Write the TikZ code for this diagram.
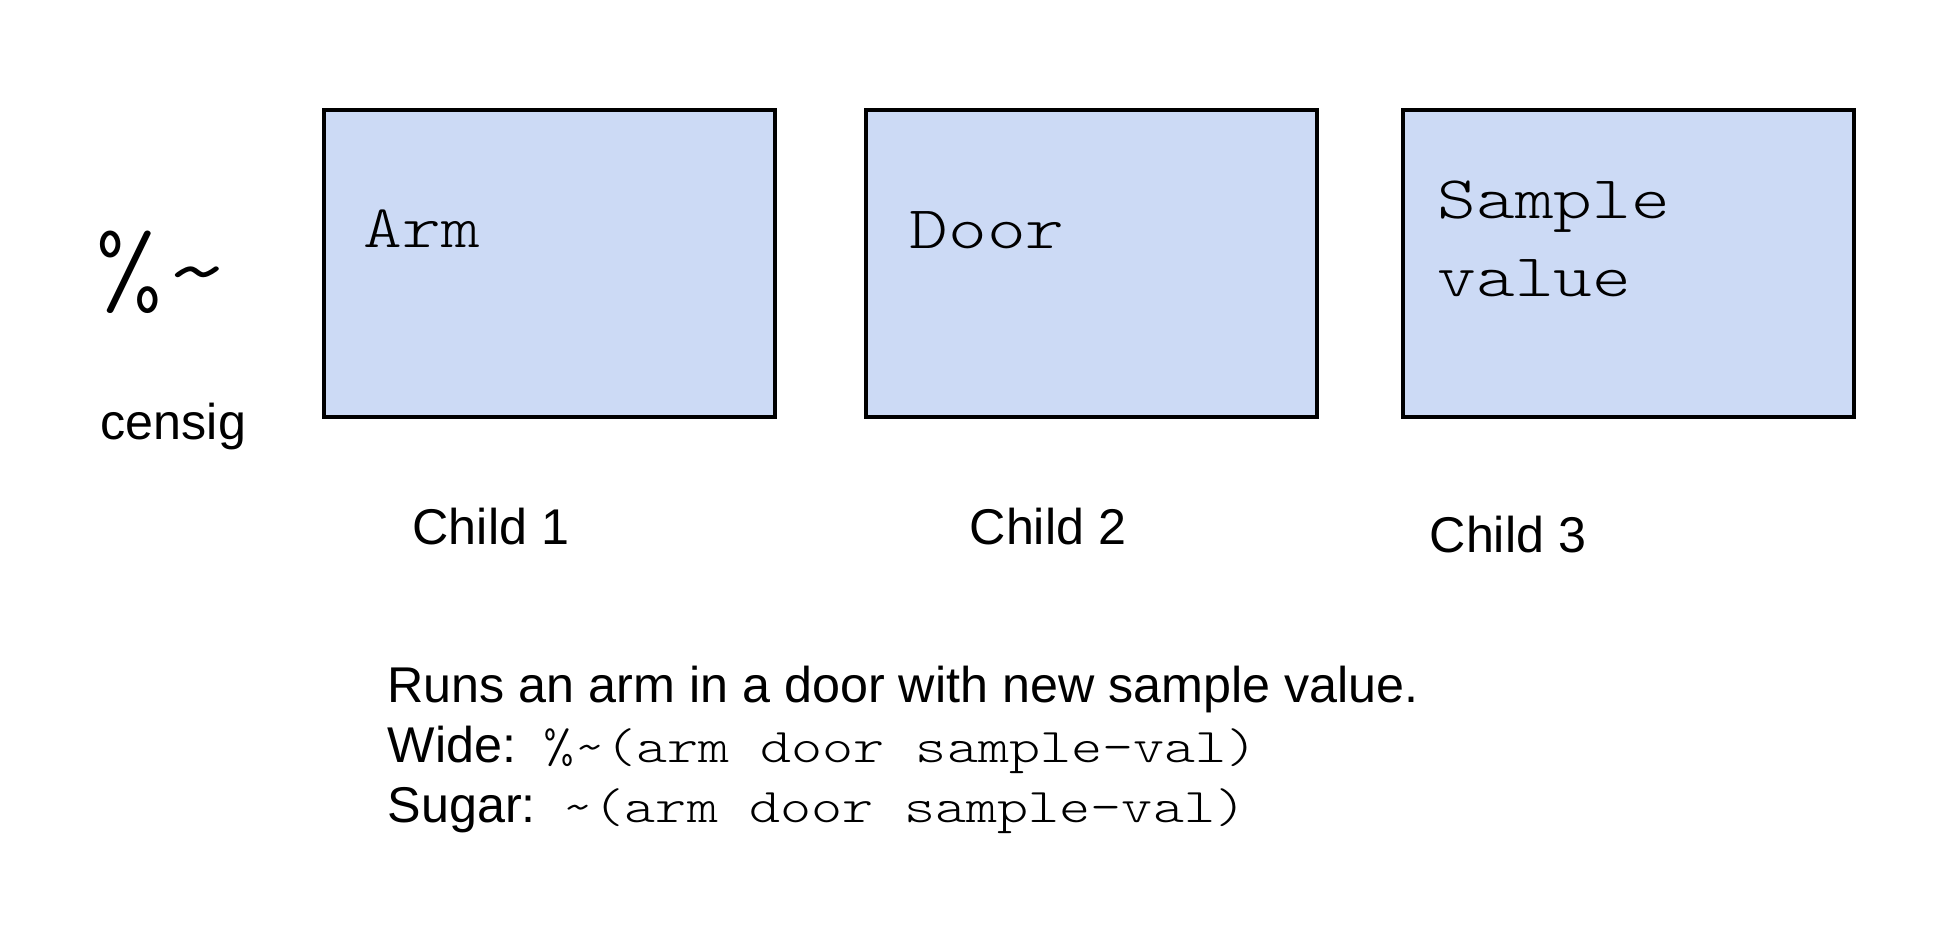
\documentclass[tikz,border=0pt]{standalone}
\usepackage{fontspec}
\setmainfont{Liberation Sans}
\newfontfamily\codefont[FakeStretch=1.22]{lmmonolt10-regular.otf}
\definecolor{boxblue}{RGB}{204,218,245}

\begin{document}
\begin{tikzpicture}[
	childbox/.style={draw,fill=boxblue,line width=0.9pt,inner sep=0,outer sep=0,minimum width=4.51cm,minimum height=3.07cm,anchor=north west},
	boxtext/.style={inner sep=0,anchor=base west,align=left,font=\codefont\fontsize{17.2}{22.2}\selectfont},
	plain/.style={inner sep=0,anchor=base west,font=\fontsize{14.3}{17}\selectfont}]
	\useasboundingbox (0,0) rectangle (19.54,-9.28);
	\node[inner sep=0,anchor=base west,font=\codefont\fontsize{30}{36}\selectfont] (sym) at (0.95,-3.05) {\%\textasciitilde};
	\node[plain] (censig) at (1.00,-4.40) {censig};
	\node[childbox] (1) at (3.24,-1.10) {};
	\node[childbox] (2) at (8.66,-1.10) {};
	\node[childbox] (3) at (14.03,-1.10) {};
	\node[boxtext] (arm) at (3.63,-2.48) {Arm};
	\node[boxtext] (door) at (9.09,-2.49) {Door};
	\node[boxtext] (sample) at (14.37,-2.97) {Sample\\value};
	\node[plain] (c1) at (4.12,-5.45) {Child 1};
	\node[plain] (c2) at (9.69,-5.45) {Child 2};
	\node[plain] (c3) at (14.29,-5.53) {Child 3};
	\node[plain] (desc) at (3.87,-7.03) {Runs an arm in a door with new sample value.};
	\node[plain] (wide) at (3.87,-7.63) {Wide:\hspace{0.27cm}{\codefont\fontsize{13.8}{16}\selectfont\%\textasciitilde(arm door sample-val)}};
	\node[plain] (sugar) at (3.87,-8.23) {Sugar:\hspace{0.27cm}{\codefont\fontsize{13.8}{16}\selectfont\textasciitilde(arm door sample-val)}};
\end{tikzpicture}
\end{document}
